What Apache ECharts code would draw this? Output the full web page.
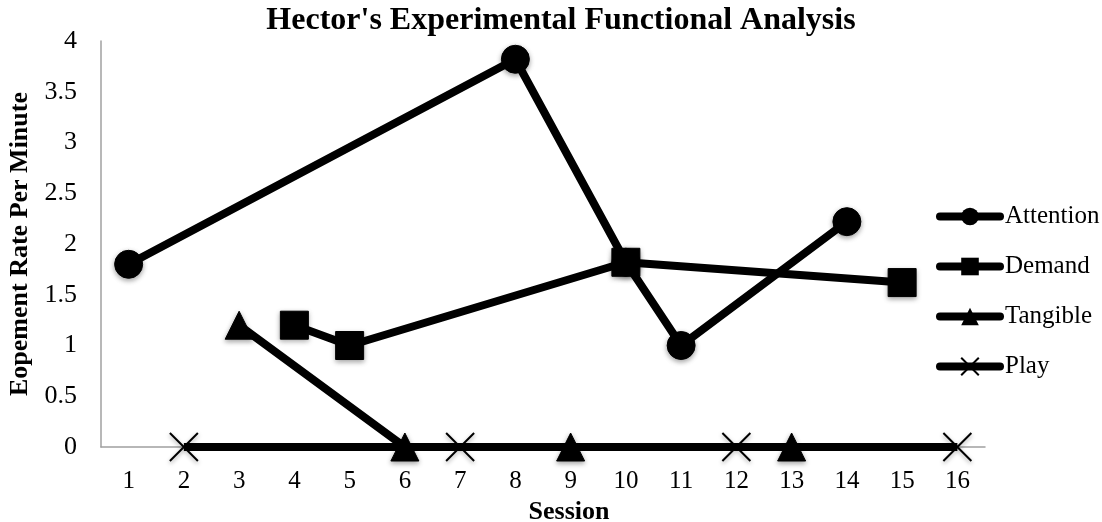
<!DOCTYPE html>
<html><head><meta charset="utf-8">
<script src="https://cdn.jsdelivr.net/npm/echarts@6/dist/echarts.min.js"></script>
<style>html,body{margin:0;padding:0;background:#fff}#c{width:1102px;height:522px}</style>
</head><body><div id="c"></div>
<script>
const sessions = ['1','2','3','4','5','6','7','8','9','10','11','12','13','14','15','16'];
const attention = [1.8, null, null, null, null, null, null, 3.82, null, 1.82, 1.0, null, null, 2.22, null, null];
const demand    = [null, null, null, 1.2, 1.0, null, null, null, null, 1.82, null, null, null, null, 1.62, null];
const tangible  = [null, null, 1.2, null, null, 0, null, null, 0, null, null, null, 0, null, null, null];
const play      = [null, 0, null, null, null, null, 0, null, null, null, null, 0, null, null, null, 0];
const yTicks = ['0','0.5','1','1.5','2','2.5','3','3.5','4'];

const font = 'Liberation Serif';
function mk(name, data, symbol, size, extra) {
  return Object.assign({
    name, type: 'line', data, connectNulls: true, symbol, symbolSize: size,
    lineStyle: { color: '#000', width: 8 },
    itemStyle: { color: '#000', borderColor: '#000', shadowColor: 'rgba(0,0,0,0.35)', shadowBlur: 5, shadowOffsetY: 2 },
    emphasis: { disabled: true }, animation: false, z: 3
  }, extra || {});
}
const chart = echarts.init(document.getElementById('c'), null, { renderer: 'canvas' });
chart.setOption({
  backgroundColor: '#fff',
  title: { text: "Hector's Experimental Functional Analysis", left: 556, textAlign: 'center', top: 0,
    textStyle: { fontFamily: font, fontSize: 32, fontWeight: 'bold', color: '#000' } },
  grid: { left: 101, right: 117, top: 41, bottom: 75, outerBoundsMode: 'none', containLabel: false },
  legend: {
    orient: 'vertical', left: 931, top: 199, itemGap: 25, itemWidth: 60, itemHeight: 22,
    lineStyle: { width: 8, cap: 'round', color: '#000' },
    itemStyle: { shadowBlur: 0 },
    textStyle: { fontFamily: font, fontSize: 25, color: '#000' },
    data: ['Attention', 'Demand', 'Tangible', 'Play']
  },
  xAxis: {
    type: 'category', data: sessions, boundaryGap: true,
    name: 'Session', nameLocation: 'middle', nameGap: 45,
    nameTextStyle: { fontFamily: font, fontSize: 26, fontWeight: 'bold', color: '#000', padding: [0, 0, 0, 52] },
    axisLine: { lineStyle: { color: '#a0a0a0', width: 1.5 } },
    axisTick: { show: false },
    axisLabel: { fontFamily: font, fontSize: 25, color: '#000', margin: 22 }
  },
  yAxis: {
    type: 'value', min: 0, max: 4, interval: 0.5,
    name: 'Eopement Rate Per Minute', nameLocation: 'middle', nameGap: 66, nameRotate: 90,
    nameTextStyle: { fontFamily: font, fontSize: 26, fontWeight: 'bold', color: '#000' },
    axisLine: { show: true, lineStyle: { color: '#a0a0a0', width: 1.5 } },
    axisTick: { show: false },
    splitLine: { show: false },
    axisLabel: { fontFamily: font, fontSize: 26, color: '#000', margin: 24,
      formatter: v => yTicks[Math.round(v * 2)] }
  },
  series: [
    mk('Attention', attention, 'circle', 28),
    mk('Demand', demand, 'rect', 28),
    mk('Tangible', tangible, 'triangle', 28),
    mk('Play', play, 'path://M0,0L10,10M10,0L0,10', 28, { itemStyle: { color: 'none', borderColor: '#000', borderWidth: 2, shadowColor: 'rgba(0,0,0,0.35)', shadowBlur: 4, shadowOffsetY: 2 } })
  ]
});
</script></body></html>
